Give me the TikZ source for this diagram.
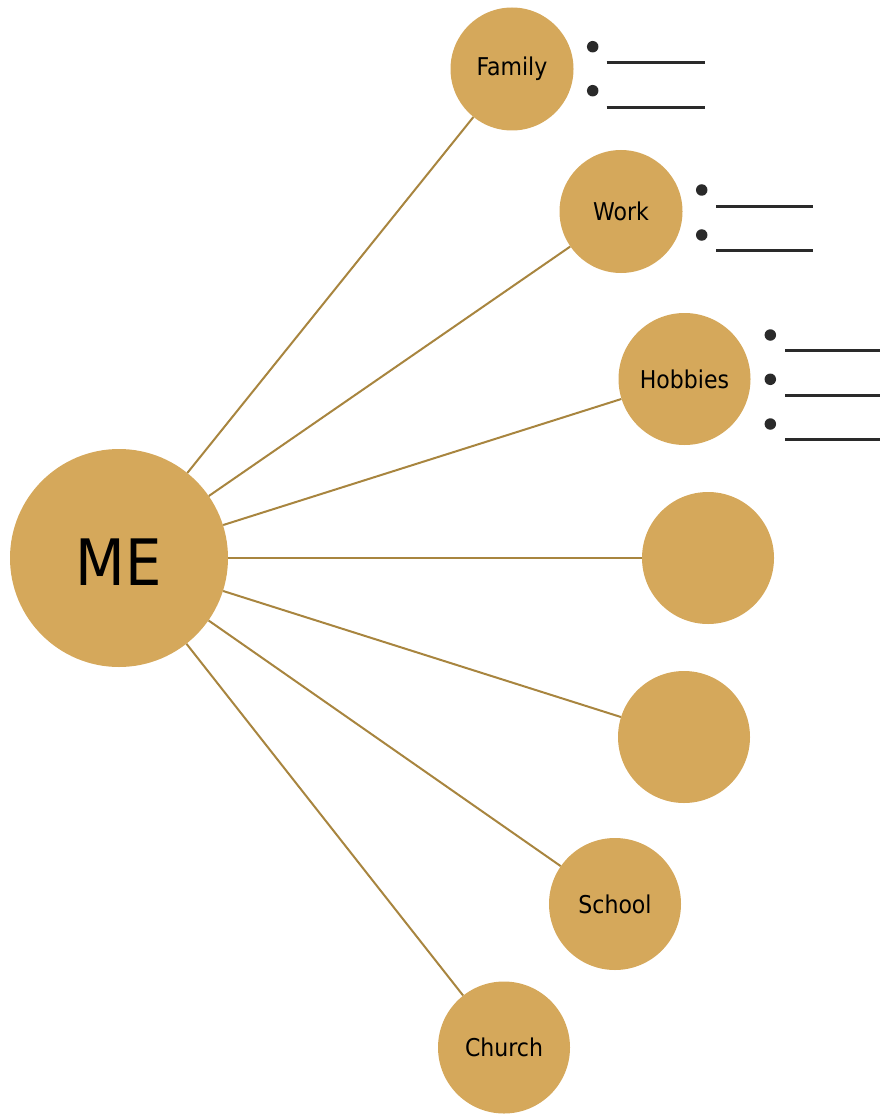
\documentclass[tikz,border=0pt]{standalone}
\usepackage{fontspec}
\setmainfont{DejaVu Sans Condensed}
\definecolor{bubble}{HTML}{D5A85B}
\definecolor{link}{HTML}{A8853F}
\definecolor{ink}{HTML}{2A2A2A}
\tikzset{
  bub/.style={circle, fill=bubble, inner sep=0pt, font=\fontsize{24.5}{26}\selectfont},
  conn/.style={draw=link, line width=2pt},
  dotm/.style={circle, fill=ink, inner sep=0pt, minimum size=11.5pt},
  blank/.style={draw=ink, line width=3pt}
}
\begin{document}
\begin{tikzpicture}[x=1pt,y=-1pt]
\useasboundingbox (0,0) rectangle (880,1115);
\node[bub, minimum size=218pt] (me) at (119,558) {};
\node[font=\fontsize{64}{66}\selectfont, inner sep=0pt] (metext) at (119,562) {ME};
\node[bub, minimum size=123pt] (family) at (512,69) {Family};
\node[bub, minimum size=123pt] (work) at (621,211.5) {Work};
\node[bub, minimum size=132pt] (hobbies) at (684.5,379) {Hobbies};
\node[bub, minimum size=132pt] (e1) at (708,558) {};
\node[bub, minimum size=132pt] (e2) at (684,737) {};
\node[bub, minimum size=132pt] (school) at (615,904) {School};
\node[bub, minimum size=132pt] (church) at (504,1047.5) {Church};
\foreach \t in {family,work,hobbies,e1,e2,school,church}
  \draw[conn] (me) -- (\t);
% bullets
\node[dotm] (fd1) at (592.7,46.7) {};
\node[dotm] (fd2) at (592.7,90.7) {};
\coordinate (fa1) at (606.7,62.3); \coordinate (fb1) at (705,62.3);
\coordinate (fa2) at (606.7,107.3); \coordinate (fb2) at (705,107.3);
\draw[blank] (fa1) -- (fb1);
\draw[blank] (fa2) -- (fb2);
\node[dotm] (wd1) at (701.7,190) {};
\node[dotm] (wd2) at (701.7,235) {};
\coordinate (wa1) at (716,206.7); \coordinate (wb1) at (813,206.7);
\coordinate (wa2) at (716,250); \coordinate (wb2) at (813,250);
\draw[blank] (wa1) -- (wb1);
\draw[blank] (wa2) -- (wb2);
\node[dotm] (hd1) at (770.3,335) {};
\node[dotm] (hd2) at (770.3,379.3) {};
\node[dotm] (hd3) at (770.3,424) {};
\coordinate (ha1) at (785,350); \coordinate (hb1) at (880,350);
\coordinate (ha2) at (785,395.7); \coordinate (hb2) at (880,395.7);
\coordinate (ha3) at (785,439); \coordinate (hb3) at (880,439);
\draw[blank] (ha1) -- (hb1);
\draw[blank] (ha2) -- (hb2);
\draw[blank] (ha3) -- (hb3);
\end{tikzpicture}
\end{document}
